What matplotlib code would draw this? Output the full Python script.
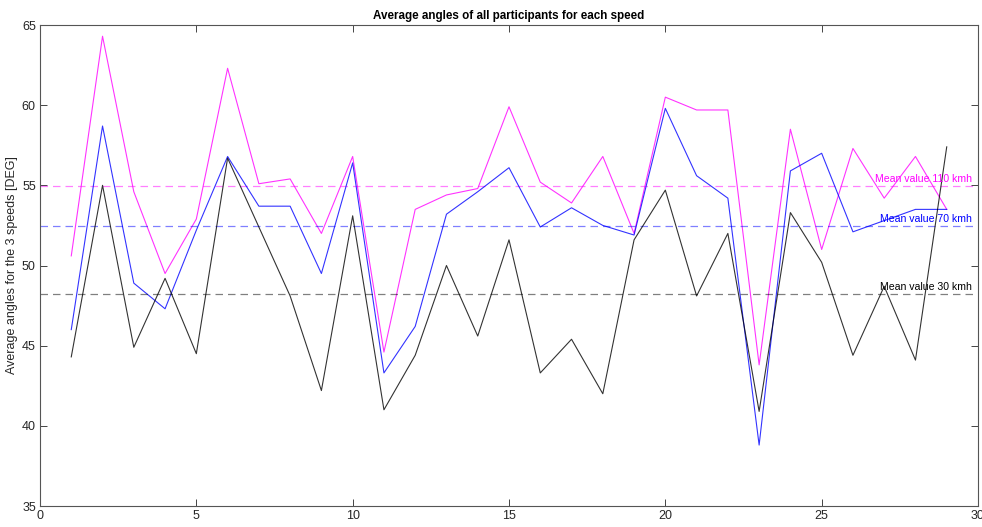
import matplotlib
matplotlib.use("Agg")
import matplotlib.pyplot as plt
import numpy as np

participants = np.arange(1, 30)

angles_110 = [50.6, 64.3, 54.6, 49.5, 52.9, 62.3, 55.1, 55.4, 52.0, 56.8,
              44.6, 53.5, 54.4, 54.8, 59.9, 55.2, 53.9, 56.8, 52.0, 60.5,
              59.7, 59.7, 43.8, 58.5, 51.0, 57.3, 54.2, 56.8, 53.5]
angles_70 = [46.0, 58.7, 48.9, 47.3, 52.2, 56.8, 53.7, 53.7, 49.5, 56.4,
             43.3, 46.2, 53.2, 54.6, 56.1, 52.4, 53.6, 52.5, 51.9, 59.8,
             55.6, 54.2, 38.8, 55.9, 57.0, 52.1, 52.8, 53.5, 53.5]
angles_30 = [44.3, 55.0, 44.9, 49.2, 44.5, 56.7, 52.4, 48.1, 42.2, 53.1,
             41.0, 44.4, 50.0, 45.6, 51.6, 43.3, 45.4, 42.0, 51.6, 54.7,
             48.1, 52.0, 40.9, 53.3, 50.2, 44.4, 48.7, 44.1, 57.4]

mean_110 = 54.95
mean_70 = 52.46
mean_30 = 48.23

series = [
    (angles_110, mean_110, "#ff00ff", "Mean value 110 kmh"),
    (angles_70, mean_70, "#0000ff", "Mean value 70 kmh"),
    (angles_30, mean_30, "#000000", "Mean value 30 kmh"),
]

plt.rcParams["font.family"] = ["Liberation Sans", "DejaVu Sans"]

fig = plt.figure(figsize=(9.82, 5.27), dpi=100)
ax = fig.add_axes([40 / 982, 21 / 527, 938 / 982, 481 / 527])

for values, mean, color, label in series:
    ax.plot(participants, values, color=color, lw=0.8, alpha=0.8)
    ax.axhline(mean, color=color, lw=0.9, ls=(0, (6, 4)), alpha=0.5)
    ax.text(29.82, mean + 0.45, label, color=color, fontsize=7.6,
            ha="right", va="center")

ax.set_xlim(0, 30)
ax.set_ylim(35, 65)
ax.set_xticks(np.arange(0, 31, 5))
ax.set_yticks(np.arange(35, 66, 5))
ax.tick_params(direction="in", top=True, right=True, labelsize=9,
               colors="#262626", length=5, width=0.6, pad=3)
for sp in ax.spines.values():
    sp.set_color("#555555")
    sp.set_linewidth(0.8)

ax.set_title("Average angles of all participants for each speed",
             fontsize=8.4, fontweight="bold", pad=4)
ax.set_ylabel("Average angles for the 3 speeds [DEG]", fontsize=9,
              color="#262626", labelpad=3)

fig.savefig("out.png", dpi=100)
